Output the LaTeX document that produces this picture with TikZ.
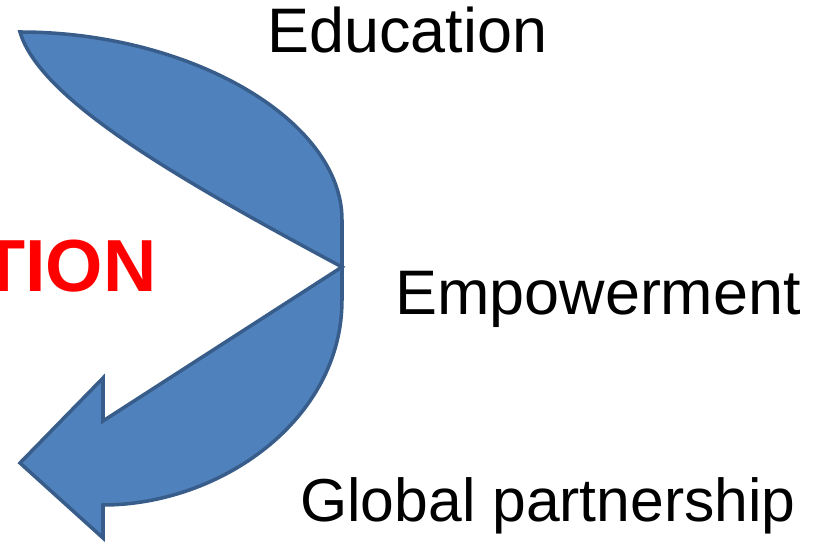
\documentclass[tikz,border=0pt]{standalone}
\usepackage{fontspec}
\setmainfont{Liberation Sans}
\usepackage{xcolor}
\usepackage{tikz}
\usetikzlibrary{calc}

\definecolor{arrowfill}{HTML}{4F81BD}
\definecolor{arrowline}{HTML}{385D8A}

\begin{document}
\begin{tikzpicture}[x=0.02cm, y=-0.02cm,
    word/.style={inner sep=0pt, font=\fontsize{35.8}{40}\selectfont},
    redword/.style={inner sep=0pt, text=red, font=\fontsize{42}{48}\selectfont\bfseries}]
  % Fix the frame to the reference size
  \useasboundingbox (0,0) rectangle (840,547);
  \clip (0,0) rectangle (840,547);

  % Curved left arrow (tail at top left, head at bottom left)
  \coordinate (tail) at (20,32);
  \coordinate (apex) at (342,267);
  \coordinate (notch) at (103,421);
  \coordinate (tip) at (20,463);
  \draw[line width=2pt, arrowline, fill=arrowfill, line join=miter]
    (tail) .. controls (190,32) and (342,120) .. (342,220)
    -- (342,300)
    .. controls (342,420) and (220,505) .. (103,505)
    -- (103,538) -- (tip) -- (103,378) -- (notch)
    -- (apex)
    .. controls (180,180) and (40,100) .. (tail) -- cycle;

  % Labels
  \node[word, anchor=base west] (edu) at (267,53) {Education};
  \node[word, anchor=base west] (emp) at (395,315) {Empowerment};
  \node[word, anchor=base west, font=\fontsize{34.5}{40}\selectfont] (glob) at (300,522) {Global partnership};

  % Red word, cut off by the left edge
  \node[redword, anchor=base east] (act) at (157,292) {TION};
\end{tikzpicture}
\end{document}
